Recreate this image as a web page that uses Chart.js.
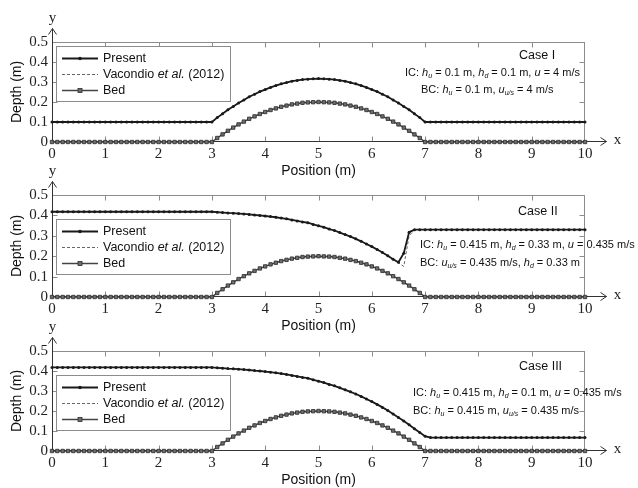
<!DOCTYPE html>
<html>
<head>
<meta charset="utf-8">
<script src="https://cdn.jsdelivr.net/npm/chart.js@4.4.0/dist/chart.umd.min.js"></script>
<style>
  body { margin: 0; background: #fff; width: 638px; height: 488px; overflow: hidden; position: relative; }
  canvas { position: absolute; left: 0; }
</style>
</head>
<body>
<canvas id="case1" width="638" height="180" style="top:0px"></canvas>
<canvas id="case2" width="638" height="180" style="top:155px"></canvas>
<canvas id="case3" width="638" height="180" style="top:309px"></canvas>
<script>
// x positions (m), every 0.1 m
const positions = [
  0, 0.1, 0.2, 0.3, 0.4, 0.5, 0.6, 0.7, 0.8, 0.9,
  1, 1.1, 1.2, 1.3, 1.4, 1.5, 1.6, 1.7, 1.8, 1.9,
  2, 2.1, 2.2, 2.3, 2.4, 2.5, 2.6, 2.7, 2.8, 2.9,
  3, 3.1, 3.2, 3.3, 3.4, 3.5, 3.6, 3.7, 3.8, 3.9,
  4, 4.1, 4.2, 4.3, 4.4, 4.5, 4.6, 4.7, 4.8, 4.9,
  5, 5.1, 5.2, 5.3, 5.4, 5.5, 5.6, 5.7, 5.8, 5.9,
  6, 6.1, 6.2, 6.3, 6.4, 6.5, 6.6, 6.7, 6.8, 6.9,
  7, 7.1, 7.2, 7.3, 7.4, 7.5, 7.6, 7.7, 7.8, 7.9,
  8, 8.1, 8.2, 8.3, 8.4, 8.5, 8.6, 8.7, 8.8, 8.9,
  9, 9.1, 9.2, 9.3, 9.4, 9.5, 9.6, 9.7, 9.8, 9.9,
  10
];

// bed elevation (same hump in all three cases)
const bed = [
  0, 0, 0, 0, 0, 0, 0, 0, 0, 0,
  0, 0, 0, 0, 0, 0, 0, 0, 0, 0,
  0, 0, 0, 0, 0, 0, 0, 0, 0, 0,
  0, 0.020, 0.038, 0.056, 0.072, 0.088, 0.102, 0.116, 0.128, 0.140,
  0.150, 0.160, 0.168, 0.176, 0.182, 0.188, 0.192, 0.196, 0.198, 0.199,
  0.200, 0.199, 0.198, 0.196, 0.192, 0.188, 0.182, 0.176, 0.168, 0.160,
  0.150, 0.140, 0.128, 0.116, 0.102, 0.088, 0.072, 0.056, 0.038, 0.020,
  0, 0, 0, 0, 0, 0, 0, 0, 0, 0,
  0, 0, 0, 0, 0, 0, 0, 0, 0, 0,
  0, 0, 0, 0, 0, 0, 0, 0, 0, 0,
  0
];

// Case I - supercritical flow
const present1 = [
  0.1, 0.1, 0.1, 0.1, 0.1, 0.1, 0.1, 0.1, 0.1, 0.1,
  0.1, 0.1, 0.1, 0.1, 0.1, 0.1, 0.1, 0.1, 0.1, 0.1,
  0.1, 0.1, 0.1, 0.1, 0.1, 0.1, 0.1, 0.1, 0.1, 0.1,
  0.100, 0.122, 0.141, 0.161, 0.178, 0.195, 0.210, 0.226, 0.239, 0.252,
  0.262, 0.273, 0.282, 0.291, 0.297, 0.304, 0.308, 0.312, 0.314, 0.316,
  0.317, 0.316, 0.314, 0.312, 0.308, 0.304, 0.297, 0.291, 0.282, 0.273,
  0.262, 0.252, 0.239, 0.226, 0.210, 0.195, 0.178, 0.161, 0.141, 0.122,
  0.1, 0.1, 0.1, 0.1, 0.1, 0.1, 0.1, 0.1, 0.1, 0.1,
  0.1, 0.1, 0.1, 0.1, 0.1, 0.1, 0.1, 0.1, 0.1, 0.1,
  0.1, 0.1, 0.1, 0.1, 0.1, 0.1, 0.1, 0.1, 0.1, 0.1,
  0.1
];
const vacondio1 = [
  0.1, 0.1, 0.1, 0.1, 0.1, 0.1, 0.1, 0.1, 0.1, 0.1,
  0.1, 0.1, 0.1, 0.1, 0.1, 0.1, 0.1, 0.1, 0.1, 0.1,
  0.1, 0.1, 0.1, 0.1, 0.1, 0.1, 0.1, 0.1, 0.1, 0.1,
  0.100, 0.121, 0.141, 0.160, 0.178, 0.194, 0.210, 0.225, 0.239, 0.251,
  0.262, 0.272, 0.282, 0.290, 0.297, 0.303, 0.308, 0.312, 0.314, 0.316,
  0.316, 0.316, 0.314, 0.312, 0.308, 0.303, 0.297, 0.290, 0.282, 0.272,
  0.262, 0.251, 0.239, 0.225, 0.210, 0.194, 0.178, 0.160, 0.141, 0.121,
  0.1, 0.1, 0.1, 0.1, 0.1, 0.1, 0.1, 0.1, 0.1, 0.1,
  0.1, 0.1, 0.1, 0.1, 0.1, 0.1, 0.1, 0.1, 0.1, 0.1,
  0.1, 0.1, 0.1, 0.1, 0.1, 0.1, 0.1, 0.1, 0.1, 0.1,
  0.1
];

// Case II - transcritical flow with shock
const present2 = [
  0.418, 0.418, 0.418, 0.418, 0.418, 0.418, 0.418, 0.418, 0.418, 0.418,
  0.418, 0.418, 0.418, 0.418, 0.418, 0.418, 0.418, 0.418, 0.418, 0.418,
  0.418, 0.418, 0.418, 0.418, 0.418, 0.418, 0.418, 0.418, 0.418, 0.418,
  0.418, 0.416, 0.414, 0.412, 0.411, 0.409, 0.407, 0.405, 0.402, 0.400,
  0.397, 0.394, 0.391, 0.387, 0.383, 0.378, 0.373, 0.368, 0.364, 0.356,
  0.349, 0.342, 0.333, 0.326, 0.316, 0.306, 0.296, 0.285, 0.273, 0.260,
  0.247, 0.233, 0.218, 0.202, 0.185, 0.170, 0.215, 0.318, 0.330, 0.330,
  0.330, 0.33, 0.33, 0.33, 0.33, 0.33, 0.33, 0.33, 0.33, 0.33,
  0.33, 0.33, 0.33, 0.33, 0.33, 0.33, 0.33, 0.33, 0.33, 0.33,
  0.33, 0.33, 0.33, 0.33, 0.33, 0.33, 0.33, 0.33, 0.33, 0.33,
  0.33
];
const vacondio2 = [
  0.418, 0.418, 0.418, 0.418, 0.418, 0.418, 0.418, 0.418, 0.418, 0.418,
  0.418, 0.418, 0.418, 0.418, 0.418, 0.418, 0.418, 0.418, 0.418, 0.418,
  0.418, 0.418, 0.418, 0.418, 0.418, 0.418, 0.418, 0.418, 0.418, 0.418,
  0.418, 0.416, 0.414, 0.412, 0.411, 0.409, 0.407, 0.405, 0.402, 0.400,
  0.397, 0.394, 0.391, 0.387, 0.383, 0.378, 0.373, 0.368, 0.364, 0.356,
  0.349, 0.342, 0.333, 0.326, 0.316, 0.306, 0.296, 0.285, 0.273, 0.260,
  0.247, 0.233, 0.218, 0.202, 0.185, 0.168, 0.150, 0.300, 0.328, 0.330,
  0.330, 0.33, 0.33, 0.33, 0.33, 0.33, 0.33, 0.33, 0.33, 0.33,
  0.33, 0.33, 0.33, 0.33, 0.33, 0.33, 0.33, 0.33, 0.33, 0.33,
  0.33, 0.33, 0.33, 0.33, 0.33, 0.33, 0.33, 0.33, 0.33, 0.33,
  0.33
];

// Case III - transcritical flow without shock
const present3 = [
  0.418, 0.418, 0.418, 0.418, 0.418, 0.418, 0.418, 0.418, 0.418, 0.418,
  0.418, 0.418, 0.418, 0.418, 0.418, 0.418, 0.418, 0.418, 0.418, 0.418,
  0.418, 0.418, 0.418, 0.418, 0.418, 0.418, 0.418, 0.418, 0.418, 0.418,
  0.418, 0.416, 0.414, 0.412, 0.411, 0.409, 0.407, 0.405, 0.402, 0.400,
  0.397, 0.394, 0.391, 0.387, 0.383, 0.378, 0.373, 0.368, 0.364, 0.356,
  0.349, 0.342, 0.333, 0.326, 0.316, 0.306, 0.296, 0.285, 0.273, 0.260,
  0.247, 0.233, 0.218, 0.202, 0.185, 0.168, 0.150, 0.131, 0.111, 0.092,
  0.074, 0.067, 0.067, 0.067, 0.067, 0.067, 0.067, 0.067, 0.067, 0.067,
  0.067, 0.067, 0.067, 0.067, 0.067, 0.067, 0.067, 0.067, 0.067, 0.067,
  0.067, 0.067, 0.067, 0.067, 0.067, 0.067, 0.067, 0.067, 0.067, 0.067,
  0.067
];
const vacondio3 = [
  0.418, 0.418, 0.418, 0.418, 0.418, 0.418, 0.418, 0.418, 0.418, 0.418,
  0.418, 0.418, 0.418, 0.418, 0.418, 0.418, 0.418, 0.418, 0.418, 0.418,
  0.418, 0.418, 0.418, 0.418, 0.418, 0.418, 0.418, 0.418, 0.418, 0.418,
  0.418, 0.416, 0.414, 0.412, 0.411, 0.409, 0.407, 0.405, 0.402, 0.400,
  0.397, 0.394, 0.391, 0.387, 0.383, 0.378, 0.373, 0.368, 0.363, 0.356,
  0.349, 0.341, 0.333, 0.325, 0.316, 0.306, 0.296, 0.285, 0.273, 0.260,
  0.247, 0.233, 0.218, 0.202, 0.185, 0.168, 0.150, 0.131, 0.111, 0.091,
  0.072, 0.067, 0.067, 0.067, 0.067, 0.067, 0.067, 0.067, 0.067, 0.067,
  0.067, 0.067, 0.067, 0.067, 0.067, 0.067, 0.067, 0.067, 0.067, 0.067,
  0.067, 0.067, 0.067, 0.067, 0.067, 0.067, 0.067, 0.067, 0.067, 0.067,
  0.067
];

const legendLabels = ['Present', 'Vacondio {et al.} (2012)', 'Bed'];
const caseTitles = ['Case I', 'Case II', 'Case III'];
// {..} = italic, [..] = italic subscript
const icTexts = [
  'IC: {h}[u] = 0.1 m, {h}[d] = 0.1 m, {u} = 4 m/s',
  'IC: {h}[u] = 0.415 m, {h}[d] = 0.33 m, {u} = 0.435 m/s',
  'IC: {h}[u] = 0.415 m, {h}[d] = 0.1 m, {u} = 0.435 m/s'
];
const bcTexts = [
  'BC: {h}[u] = 0.1 m, {u}[u/s] = 4 m/s',
  'BC: {u}[u/s] = 0.435 m/s, {h}[d] = 0.33 m',
  'BC: {h}[u] = 0.415 m, {u}[u/s] = 0.435 m/s'
];

const SANS = '"Liberation Sans", Arial, sans-serif';
const SERIF = '"Liberation Serif", "Times New Roman", serif';

function drawRich(ctx, str, x, y, size) {
  const parts = str.split(/(\{[^}]*\}|\[[^\]]*\])/).filter(s => s.length);
  parts.forEach(p => {
    let text = p, dy = 0;
    ctx.font = size + 'px ' + SANS;
    if (p[0] === '{') {
      text = p.slice(1, -1);
      ctx.font = 'italic ' + size + 'px ' + SANS;
    } else if (p[0] === '[') {
      text = p.slice(1, -1);
      ctx.font = 'italic ' + Math.round(size * 0.6) + 'px ' + SANS;
      dy = size * 0.3;
    }
    ctx.fillText(text, x, y + dy);
    x += ctx.measureText(text).width;
  });
}

// box, inward ticks, arrows, legend and notes
const panelDecor = {
  id: 'panelDecor',
  beforeDatasetsDraw(chart) {
    const { ctx, chartArea: a, scales: { x, y } } = chart;
    const L = Math.round(a.left) + 0.5, R = Math.round(a.right) - 0.5;
    const T = Math.round(a.top) + 0.5, B = Math.round(a.bottom) - 0.5;
    ctx.save();
    ctx.strokeStyle = '#8c8c8c';
    ctx.lineWidth = 1;
    ctx.strokeRect(L, T, R - L, B - T);
    ctx.beginPath();
    x.ticks.forEach(t => {
      const px = Math.round(x.getPixelForValue(t.value)) + 0.5;
      if (t.value <= x.min || t.value >= x.max) return;
      ctx.moveTo(px, B); ctx.lineTo(px, B - 5);
      ctx.moveTo(px, T); ctx.lineTo(px, T + 5);
    });
    y.ticks.forEach(t => {
      const py = Math.round(y.getPixelForValue(t.value)) + 0.5;
      if (t.value <= y.min || t.value >= y.max) return;
      ctx.moveTo(L, py); ctx.lineTo(L + 5, py);
      ctx.moveTo(R, py); ctx.lineTo(R - 5, py);
    });
    ctx.stroke();

    // axes with arrows
    ctx.strokeStyle = '#333';
    ctx.beginPath();
    ctx.moveTo(L, B); ctx.lineTo(L, T - 14);
    ctx.moveTo(L - 4, T - 8); ctx.lineTo(L, T - 14); ctx.lineTo(L + 4, T - 8);
    ctx.moveTo(L, B); ctx.lineTo(R + 22, B);
    ctx.moveTo(R + 16, B - 4); ctx.lineTo(R + 22, B); ctx.lineTo(R + 16, B + 4);
    ctx.stroke();
    ctx.fillStyle = '#222';
    ctx.font = '15px ' + SERIF;
    ctx.textAlign = 'center';
    ctx.textBaseline = 'middle';
    ctx.fillText('y', L, T - 24);
    ctx.fillText('x', R + 33, B - 1);
    ctx.restore();
  },
  afterDatasetsDraw(chart, args, opts) {
    const { ctx, chartArea: a } = chart;
    const ds = chart.data.datasets;
    ctx.save();
    // legend
    const bx = 56.5, by = Math.round(a.top + opts.legendTop) + 0.5;
    ctx.fillStyle = '#fff';
    ctx.fillRect(bx, by, 174, 55);
    ctx.strokeStyle = '#8c8c8c';
    ctx.lineWidth = 1;
    ctx.strokeRect(bx, by, 174, 55);
    legendLabels.forEach((lab, i) => {
      const d = ds[i];
      const ry = by + 12 + i * 16;
      ctx.strokeStyle = d.borderColor;
      ctx.lineWidth = d.borderWidth;
      ctx.setLineDash(d.borderDash || []);
      ctx.beginPath();
      ctx.moveTo(62, ry); ctx.lineTo(98, ry);
      ctx.stroke();
      ctx.setLineDash([]);
      if (d.pointRadius > 0) {
        ctx.fillStyle = d.pointBackgroundColor;
        if (d.pointStyle === 'rect') {
          ctx.fillRect(78, ry - 2, 4, 4);
          ctx.lineWidth = 0.8;
          ctx.strokeStyle = d.pointBorderColor;
          ctx.strokeRect(78, ry - 2, 4, 4);
        } else {
          ctx.beginPath();
          ctx.arc(80, ry, 1.8, 0, Math.PI * 2);
          ctx.fill();
        }
      }
      ctx.fillStyle = '#111';
      ctx.textAlign = 'left';
      ctx.textBaseline = 'middle';
      drawRich(ctx, lab, 103, ry, 12.5);
    });
    // case notes
    ctx.fillStyle = '#111';
    ctx.textAlign = 'left';
    ctx.textBaseline = 'middle';
    opts.notes.forEach(n => drawRich(ctx, n.text, n.x, a.top + n.dy, n.size));
    ctx.restore();
  }
};

function makePanel(id, present, vacondio, topPad, legendTop, notes) {
  const pts = vals => positions.map((p, i) => ({ x: p, y: vals[i] }));
  return new Chart(document.getElementById(id), {
    type: 'line',
    data: {
      datasets: [
        {
          label: 'Present', data: pts(present),
          borderColor: '#1a1a1a', borderWidth: 1.8,
          pointRadius: 1.5, pointBackgroundColor: '#1a1a1a', pointBorderWidth: 0
        },
        {
          label: 'Vacondio et al. (2012)', data: pts(vacondio),
          borderColor: '#666', borderWidth: 1, borderDash: [3, 2], pointRadius: 0
        },
        {
          label: 'Bed', data: pts(bed),
          borderColor: '#444', borderWidth: 1.5,
          pointStyle: 'rect', pointRadius: 2.4,
          pointBackgroundColor: '#6e6e6e', pointBorderColor: '#2a2a2a', pointBorderWidth: 0.8
        }
      ]
    },
    options: {
      responsive: false,
      animation: false,
      clip: false,
      layout: { padding: { left: 0, right: 53, top: topPad, bottom: 0 } },
      plugins: {
        legend: { display: false },
        tooltip: { enabled: false },
        panelDecor: { legendTop: legendTop, notes: notes }
      },
      scales: {
        x: {
          type: 'linear', min: 0, max: 10,
          afterFit: s => { s.height = 38; },
          grid: { display: false, drawTicks: false },
          border: { display: false },
          ticks: { stepSize: 1, padding: 3, maxRotation: 0, autoSkip: false,
                   color: '#222', font: { family: SERIF, size: 15 } },
          title: { display: true, text: 'Position (m)', color: '#111',
                   padding: { top: 0, bottom: 0 }, font: { family: SANS, size: 14 } }
        },
        y: {
          min: 0, max: 0.5,
          afterFit: s => { s.width = 52; },
          grid: { display: false, drawTicks: false },
          border: { display: false },
          ticks: { stepSize: 0.1, padding: 4, autoSkip: false, color: '#222',
                   font: { family: SERIF, size: 15 } },
          title: { display: true, text: 'Depth (m)', color: '#111',
                   padding: { top: 9, bottom: 0 }, font: { family: SANS, size: 14 } }
        }
      }
    },
    plugins: [panelDecor]
  });
}

makePanel('case1', present1, vacondio1, 42, 4, [
  { text: caseTitles[0], x: 519, dy: 14, size: 12.5 },
  { text: icTexts[0], x: 405, dy: 31, size: 11 },
  { text: bcTexts[0], x: 421, dy: 48, size: 11 }
]);
makePanel('case2', present2, vacondio2, 40, 24, [
  { text: caseTitles[1], x: 518, dy: 17, size: 12.5 },
  { text: icTexts[1], x: 420, dy: 50, size: 11 },
  { text: bcTexts[1], x: 420, dy: 68, size: 11 }
]);
makePanel('case3', present3, vacondio3, 42, 24, [
  { text: caseTitles[2], x: 519, dy: 16, size: 12.5 },
  { text: icTexts[2], x: 413, dy: 42, size: 11 },
  { text: bcTexts[2], x: 413, dy: 60, size: 11 }
]);
</script>
</body>
</html>
